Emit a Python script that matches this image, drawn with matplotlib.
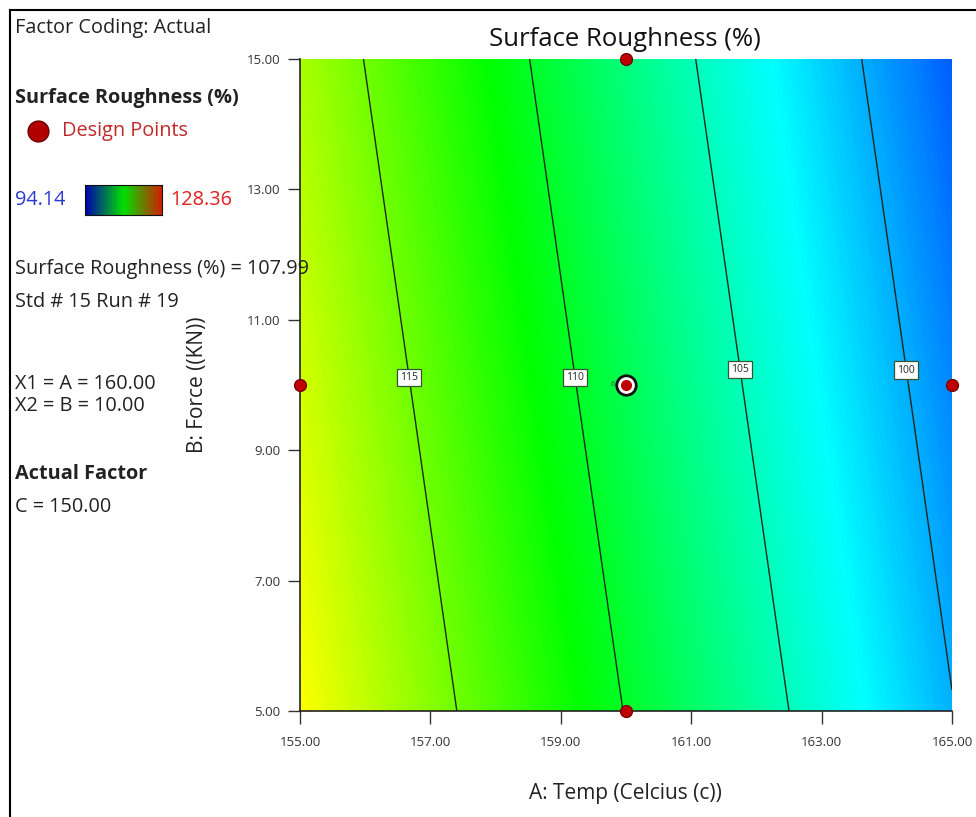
import numpy as np
import matplotlib
matplotlib.use("Agg")
import matplotlib.pyplot as plt
from matplotlib.colors import LinearSegmentedColormap
from matplotlib.lines import Line2D

plt.rcParams['font.family'] = ['Open Sans', 'DejaVu Sans']

# Valores (superficie de respuesta)
temp_levels = [155.0, 160.0, 165.0]
force_levels = [5.0, 10.0, 15.0]
# filas = fuerza (5, 10, 15), columnas = temperatura (155, 160, 165)
roughness_grid = [[119.72, 109.91, 100.09],
                  [118.32, 108.50, 98.69],
                  [116.91, 107.10, 97.28]]
contour_levels = [100, 105, 110, 115]
label_spots = [(164.3, 10.23), (161.7, 10.23), (159.2, 10.11), (156.6, 10.11)]

design_temp = [160, 155, 165, 160]
design_force = [15, 10, 10, 5]
center_temp = 160
center_force = 10
center_reps = "6"

r_min, r_max = 94.14, 128.36
x_ticks = [155, 157, 159, 161, 163, 165]
y_ticks = [5, 7, 9, 11, 13, 15]

W, H = 976, 817
fig = plt.figure(figsize=(W / 100, H / 100), dpi=100)
ax = fig.add_axes([300 / W, 1 - 711 / H, 652 / W, 652 / H])

cmap = LinearSegmentedColormap.from_list(
    "de", ["#0000ff", "#00ffff", "#00ff00", "#ffff00", "#ff0000"])

X, Y = np.meshgrid(temp_levels, force_levels)
Z = np.array(roughness_grid)
ax.contourf(X, Y, Z, levels=np.linspace(r_min, r_max, 400), cmap=cmap,
            vmin=r_min, vmax=r_max, antialiased=False)
cs = ax.contour(X, Y, Z, levels=contour_levels, colors='#1a2a1a', linewidths=1.0)
labels = ax.clabel(cs, fmt='%d', inline=False, fontsize=7.5, manual=label_spots)
for t in labels:
    t.set_rotation(0)
    t.set_bbox(dict(boxstyle='square,pad=0.3', facecolor='white',
                    edgecolor='#335533', linewidth=0.9))

# Puntos de diseno
ax.plot(design_temp, design_force, 'o', color='#c00000', markeredgecolor='#7a0000',
        markersize=8.5, clip_on=False, zorder=5)
ax.plot(center_temp, center_force, 'o', color='#111111', markersize=15, zorder=5)
ax.plot(center_temp, center_force, 'o', color='white', markersize=11, zorder=6)
ax.plot(center_temp, center_force, 'o', color='#c00000', markersize=7, zorder=7)
ax.text(center_temp - 0.17, center_force, center_reps, fontsize=5.5, color='#226622',
        ha='right', va='center', zorder=7)

ax.set_xlim(155, 165)
ax.set_ylim(5, 15)
ax.set_xticks(x_ticks)
ax.set_yticks(y_ticks)
ax.xaxis.set_major_formatter(plt.FormatStrFormatter('%.2f'))
ax.yaxis.set_major_formatter(plt.FormatStrFormatter('%.2f'))
ax.tick_params(axis='both', direction='out', length=9, width=1, labelsize=9.5,
               colors='#333333', pad=5)
ax.tick_params(axis='x', pad=9)
for s in ['top', 'right']:
    ax.spines[s].set_visible(False)
for s in ['left', 'bottom']:
    ax.spines[s].set_color('#222222')
    ax.spines[s].set_linewidth(1.2)

fig.text(625 / W, 1 - 40 / H, 'Surface Roughness (%)', fontsize=18.5,
         ha='center', va='center', color='#111111')
fig.text(625 / W, 1 - 793 / H, 'A: Temp (Celcius (c))', fontsize=15,
         ha='center', va='center', color='#222222')
fig.text(197 / W, 1 - 385 / H, 'B: Force ((KN))', fontsize=15, rotation=90,
         ha='center', va='center', color='#222222')

# Panel de informacion a la izquierda
def left_text(y, s, **kw):
    fig.text(15 / W, 1 - y / H, s, ha='left', va='center', fontsize=14.3,
             color='#222222', **kw)

left_text(28, 'Factor Coding: Actual')
left_text(98, 'Surface Roughness (%)', fontweight='bold')
fig.text(62 / W, 1 - 131 / H, 'Design Points', ha='left', va='center',
         fontsize=14.3, color='#c0282a')
fig.add_artist(Line2D([38 / W], [1 - 131 / H], marker='o', markersize=15,
                      color='#b00000', markeredgecolor='#700000'))
fig.text(15 / W, 1 - 200 / H, f'{r_min:.2f}', ha='left', va='center',
         fontsize=14.3, color='#2a3ad0')
fig.text(170 / W, 1 - 200 / H, f'{r_max:.2f}', ha='left', va='center',
         fontsize=14.3, color='#e02020')
bar_ax = fig.add_axes([85 / W, 1 - 215 / H, 77 / W, 30 / H])
bar_cmap = LinearSegmentedColormap.from_list("bar", ["#0000b0", "#00e000", "#d02000"])
bar_ax.imshow(np.linspace(0, 1, 200)[None, :], aspect='auto', cmap=bar_cmap)
bar_ax.set_xticks([])
bar_ax.set_yticks([])
for s in bar_ax.spines.values():
    s.set_color('#111111')

left_text(269, 'Surface Roughness (%) = 107.99')
left_text(302, 'Std # 15 Run # 19')
left_text(384, 'X1 = A = 160.00')
left_text(406, 'X2 = B = 10.00')
left_text(474, 'Actual Factor', fontweight='bold')
left_text(507, 'C = 150.00')

# Marco de la figura
fig.add_artist(Line2D([10 / W, 1], [1 - 10 / H, 1 - 10 / H], color='black', linewidth=1.5))
fig.add_artist(Line2D([10 / W, 10 / W], [0, 1 - 10 / H], color='black', linewidth=1.5))

fig.savefig('out.png', dpi=100)
